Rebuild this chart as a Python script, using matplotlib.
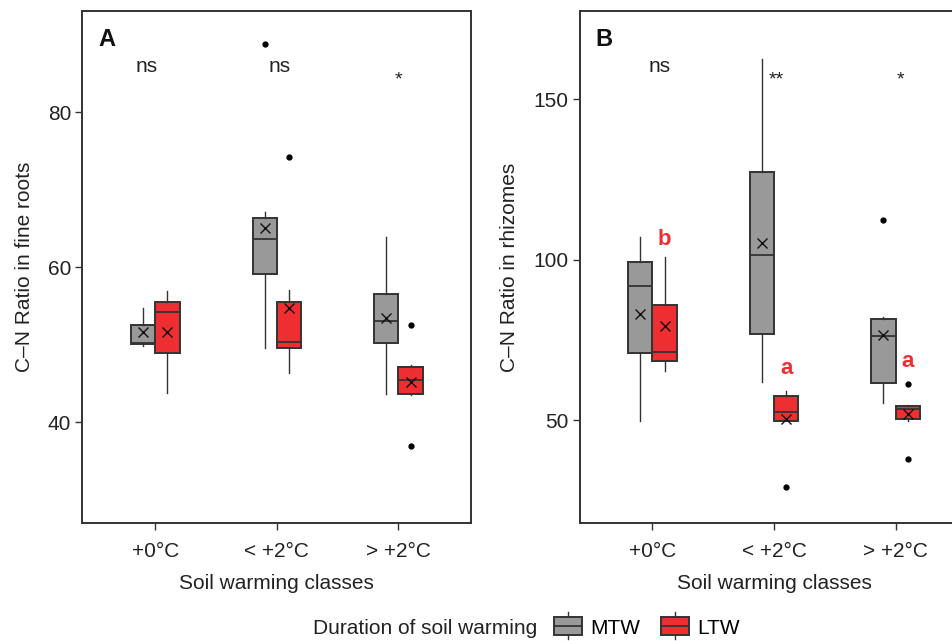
import numpy as np
import matplotlib
matplotlib.use("Agg")
import matplotlib.pyplot as plt
from matplotlib.patches import Rectangle, Patch
from matplotlib.lines import Line2D
from matplotlib.legend_handler import HandlerBase

plt.rcParams['font.family'] = ['Liberation Sans', 'DejaVu Sans']

classes = ["+0\u00b0C", "< +2\u00b0C", "> +2\u00b0C"]

# Panel A: C-N ratio in fine roots (box stats)
roots_mtw_whislo = [49.8, 49.6, 43.7]
roots_mtw_q1 = [50.1, 59.1, 50.2]
roots_mtw_med = [50.2, 63.7, 53.1]
roots_mtw_q3 = [52.5, 66.4, 56.5]
roots_mtw_whishi = [54.8, 67.1, 63.9]
roots_mtw_mean = [51.6, 65.1, 53.5]
roots_mtw_fliers = [[], [88.8], []]

roots_ltw_whislo = [43.8, 46.4, 43.5]
roots_ltw_q1 = [49.0, 49.6, 43.7]
roots_ltw_med = [54.2, 50.4, 45.5]
roots_ltw_q3 = [55.5, 55.5, 47.1]
roots_ltw_whishi = [56.9, 57.1, 47.4]
roots_ltw_mean = [51.6, 54.7, 45.2]
roots_ltw_fliers = [[], [74.3], [52.5, 36.9]]

roots_sig = ["ns", "ns", "*"]

# Panel B: C-N ratio in rhizomes
rhiz_mtw_whislo = [49.7, 61.7, 55.2]
rhiz_mtw_q1 = [70.8, 76.8, 61.6]
rhiz_mtw_med = [91.8, 101.5, 76.1]
rhiz_mtw_q3 = [99.4, 127.4, 81.4]
rhiz_mtw_whishi = [106.9, 162.4, 82.0]
rhiz_mtw_mean = [82.9, 105.2, 76.6]
rhiz_mtw_fliers = [[], [], [112.3]]

rhiz_ltw_whislo = [65.3, 49.7, 49.7]
rhiz_ltw_q1 = [68.3, 49.7, 50.3]
rhiz_ltw_med = [71.3, 52.6, 53.5]
rhiz_ltw_q3 = [85.9, 57.5, 54.5]
rhiz_ltw_whishi = [100.7, 58.9, 54.6]
rhiz_ltw_mean = [79.2, 50.2, 51.8]
rhiz_ltw_fliers = [[], [29.0], [61.2, 38.0]]

rhiz_sig = ["ns", "**", "*"]
rhiz_ltw_letters = ["b", "a", "a"]

GRAY = "#999999"
RED = "#ee2e31"
EDGE = "#333333"
TXT = "#222222"
FS = 15


def make_stats(whislo, q1, med, q3, whishi, mean, fliers):
    return [dict(whislo=a, q1=b, med=c, q3=d, whishi=e, mean=f, fliers=g)
            for a, b, c, d, e, f, g in zip(whislo, q1, med, q3, whishi, mean, fliers)]


def draw_boxes(ax, stats, positions, color):
    ax.bxp(stats, positions=positions, widths=0.2, patch_artist=True,
           showmeans=True, showcaps=False,
           boxprops=dict(facecolor=color, edgecolor=EDGE, linewidth=1.4),
           medianprops=dict(color=EDGE, linewidth=1.3),
           whiskerprops=dict(color=EDGE, linewidth=1.0),
           meanprops=dict(marker="x", markeredgecolor="#111111", markersize=7.5, markeredgewidth=1.0),
           flierprops=dict(marker="o", markerfacecolor="black", markeredgecolor="black", markersize=3.5))


def style_axes(ax, ylabel, yticks, ylim):
    ax.set_xlim(0.4, 3.6)
    ax.set_ylim(*ylim)
    ax.set_xticks([1, 2, 3])
    ax.set_xticklabels(classes)
    ax.set_yticks(yticks)
    ax.tick_params(labelsize=FS, colors=EDGE, labelcolor=TXT, length=5, width=1, pad=3)
    ax.tick_params(axis="x", pad=9)
    for s in ax.spines.values():
        s.set_color(EDGE)
        s.set_linewidth(1.4)
    ax.set_xlabel("Soil warming classes", fontsize=FS, color=TXT, labelpad=9)
    ax.set_ylabel(ylabel, fontsize=FS, color=TXT, labelpad=10)


class BoxIconHandler(HandlerBase):
    def create_artists(self, legend, orig_handle, xdescent, ydescent, width, height, fontsize, trans):
        fc = orig_handle.get_facecolor()
        x0, y0 = -xdescent, -ydescent - 0.1 * height
        h = height * 1.25
        rect = Rectangle((x0, y0), width, h, facecolor=fc, edgecolor=EDGE, linewidth=1.4, transform=trans)
        med = Line2D([x0, x0 + width], [y0 + h / 2, y0 + h / 2], color=EDGE, linewidth=1.3, transform=trans)
        wh1 = Line2D([x0 + width / 2] * 2, [y0 + h, y0 + h + 0.3 * height], color=EDGE, linewidth=1.0, transform=trans)
        wh2 = Line2D([x0 + width / 2] * 2, [y0, y0 - 0.3 * height], color=EDGE, linewidth=1.0, transform=trans)
        return [wh1, wh2, rect, med]


fig = plt.figure(figsize=(9.53, 6.41), dpi=100)
axA = fig.add_axes([0.0864, 0.1841, 0.4082, 0.7988])
axB = fig.add_axes([0.6081, 0.1841, 0.4082, 0.7988])

x = np.arange(1, 4)

# Panel A
draw_boxes(axA, make_stats(roots_mtw_whislo, roots_mtw_q1, roots_mtw_med, roots_mtw_q3,
                           roots_mtw_whishi, roots_mtw_mean, roots_mtw_fliers), x - 0.1, GRAY)
draw_boxes(axA, make_stats(roots_ltw_whislo, roots_ltw_q1, roots_ltw_med, roots_ltw_q3,
                           roots_ltw_whishi, roots_ltw_mean, roots_ltw_fliers), x + 0.1, RED)
style_axes(axA, "C\u2013N Ratio in fine roots", [40, 60, 80], (27.0, 93.1))
sig_dx_A = [-0.07, 0.02, 0.0]
sig_y_A = [85.2, 85.2, 83.6]
for i, s in enumerate(roots_sig):
    axA.text(x[i] + sig_dx_A[i], sig_y_A[i], s, ha="center", va="baseline",
             fontsize=FS if s == "ns" else 14, color=TXT)
axA.text(0.042, 0.967, "A", transform=axA.transAxes, ha="left", va="top",
         fontsize=17, fontweight="bold", color="#111111")

# Panel B
draw_boxes(axB, make_stats(rhiz_mtw_whislo, rhiz_mtw_q1, rhiz_mtw_med, rhiz_mtw_q3,
                           rhiz_mtw_whishi, rhiz_mtw_mean, rhiz_mtw_fliers), x - 0.1, GRAY)
draw_boxes(axB, make_stats(rhiz_ltw_whislo, rhiz_ltw_q1, rhiz_ltw_med, rhiz_ltw_q3,
                           rhiz_ltw_whishi, rhiz_ltw_mean, rhiz_ltw_fliers), x + 0.1, RED)
style_axes(axB, "C\u2013N Ratio in rhizomes", [50, 100, 150], (17.9, 177.5))
sig_dx_B = [0.06, 0.02, 0.04]
sig_y_B = [158.5, 154.6, 154.6]
for i, s in enumerate(rhiz_sig):
    axB.text(x[i] + sig_dx_B[i], sig_y_B[i], s, ha="center", va="baseline",
             fontsize=FS if s == "ns" else 14, color=TXT)
letter_y = [106.4, 66.2, 68.2]
for i, s in enumerate(rhiz_ltw_letters):
    axB.text(x[i] + 0.1, letter_y[i], s, ha="center", va="center", fontsize=16,
             fontweight="bold", color=RED)
axB.text(0.042, 0.967, "B", transform=axB.transAxes, ha="left", va="top",
         fontsize=17, fontweight="bold", color="#111111")

# legend at the bottom
fig.text(313 / 953, 1 - 628 / 641, "Duration of soil warming", ha="left", va="center",
         fontsize=FS, color=TXT)
handles = [Patch(facecolor=GRAY), Patch(facecolor=RED)]
fig.legend(handles, ["MTW", "LTW"], ncol=2, frameon=False, loc="center left",
           bbox_to_anchor=(535 / 953, 1 - 628 / 641), fontsize=FS,
           handlelength=1.35, handletextpad=0.4, columnspacing=1.0,
           handler_map={Patch: BoxIconHandler()})

fig.savefig("out.png", dpi=100)
